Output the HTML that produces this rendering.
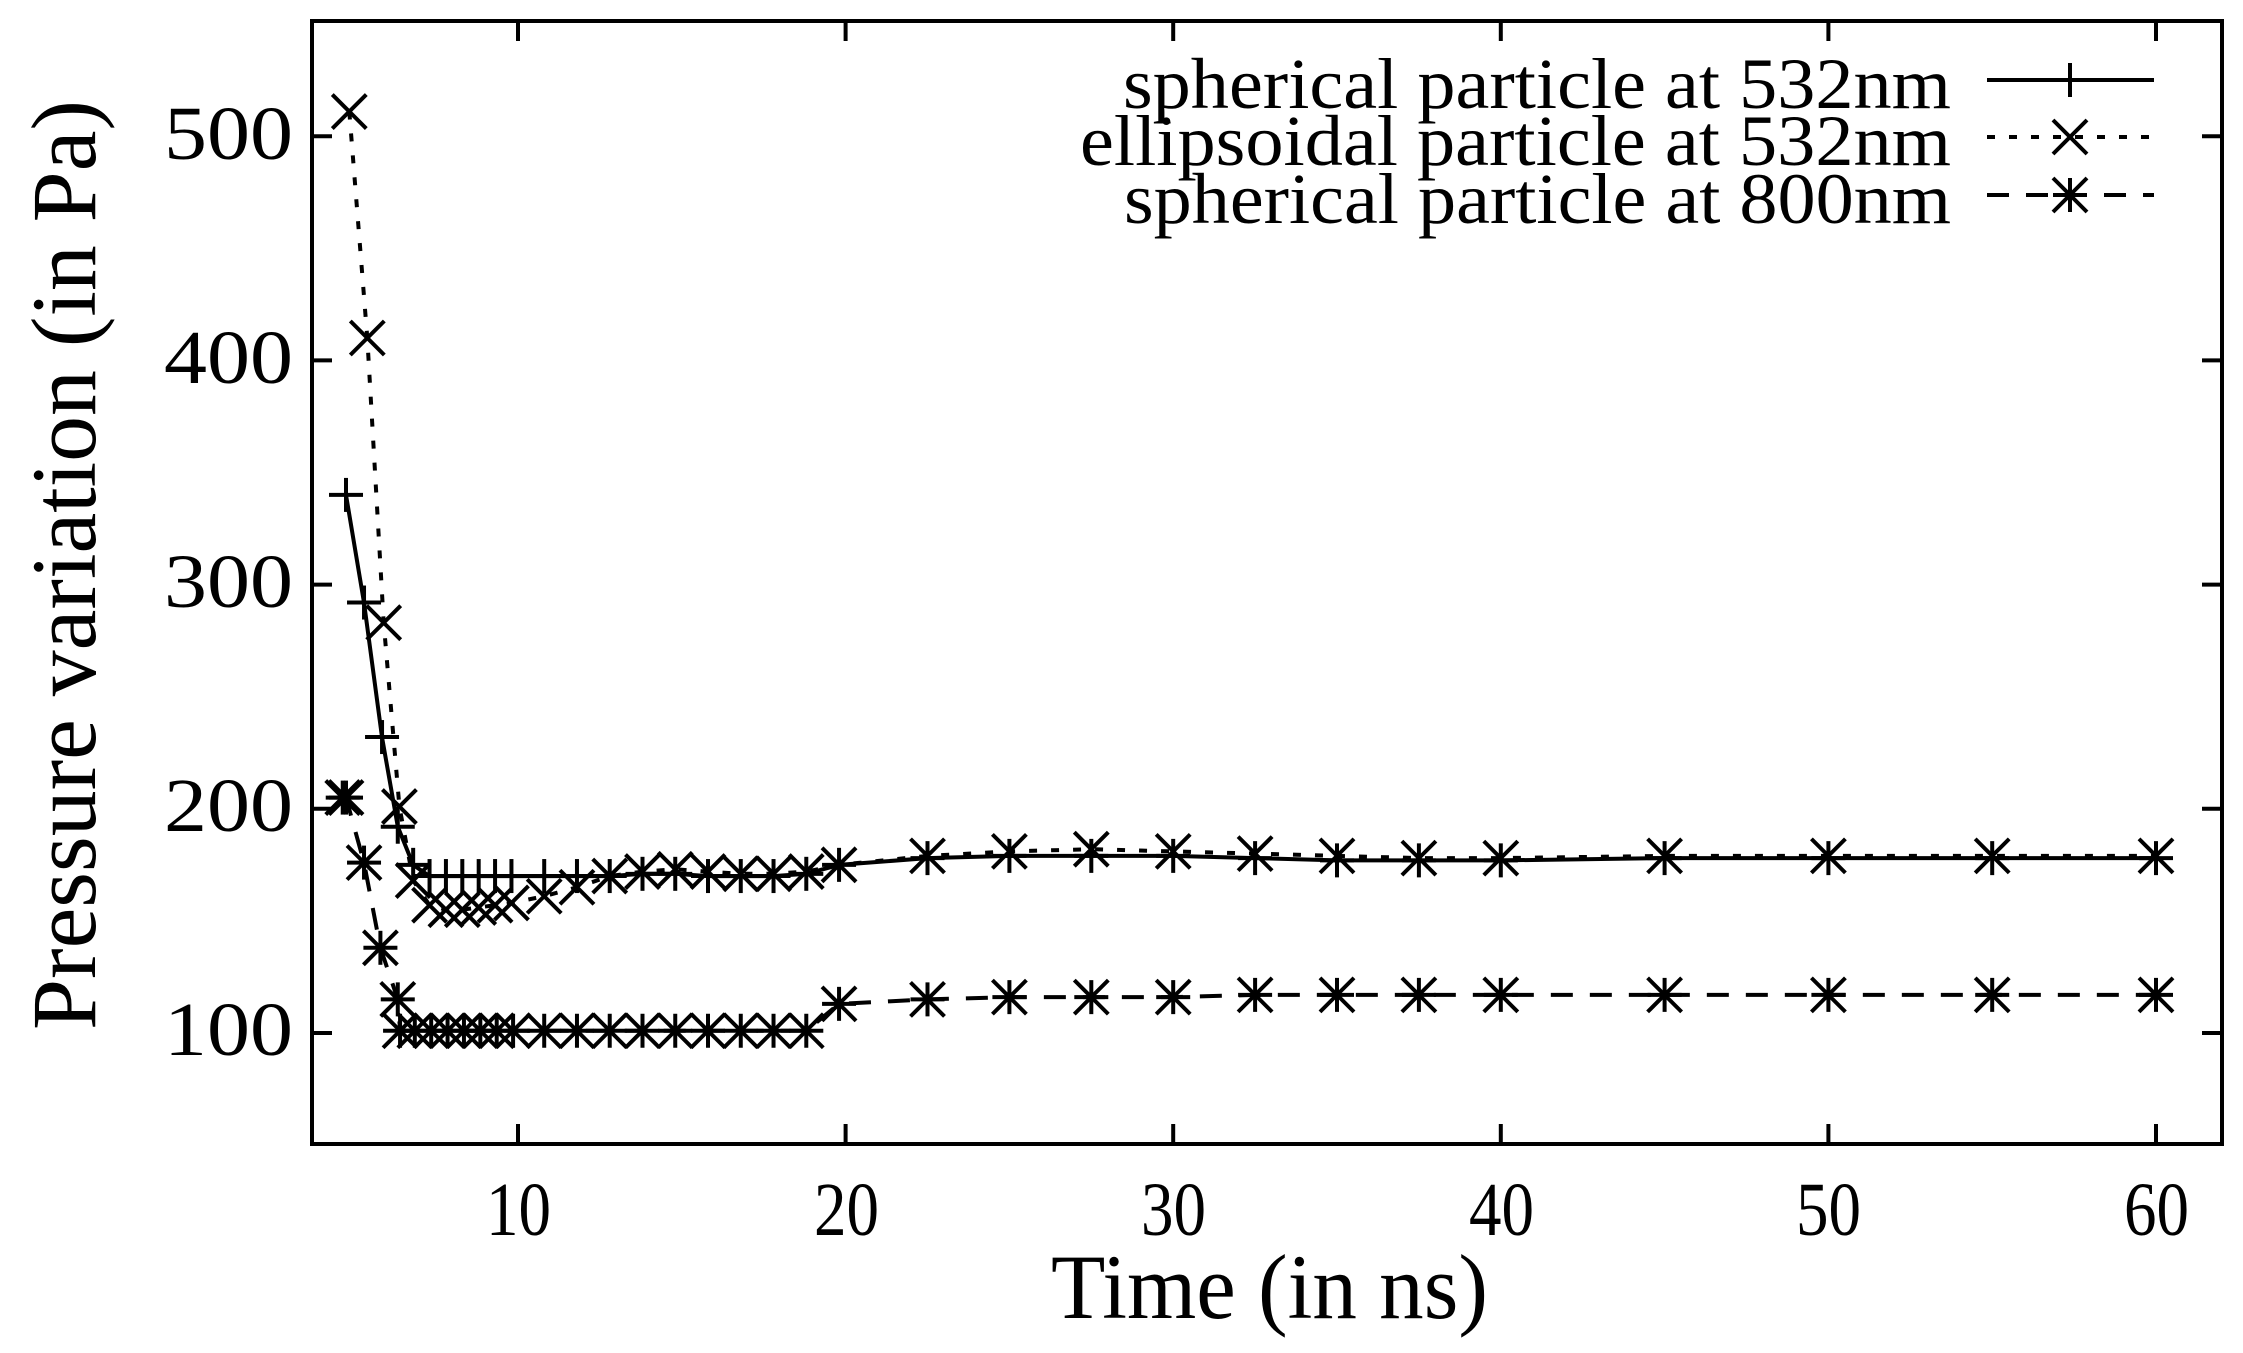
<!DOCTYPE html>
<html><head><meta charset="utf-8"><style>
html,body{margin:0;padding:0;background:#fff}
svg{display:block}
text{font-family:"Liberation Serif",serif;fill:#000}
</style></head><body>
<svg id="s" width="2243" height="1353" viewBox="0 0 2243 1353" xmlns="http://www.w3.org/2000/svg">
<rect width="2243" height="1353" fill="#fff"/>
<g id="g" stroke="#000" stroke-width="4" fill="none"></g>
<g font-size="76">
<text x="164" y="159" textLength="129" lengthAdjust="spacingAndGlyphs">500</text>
<text x="164" y="383" textLength="129" lengthAdjust="spacingAndGlyphs">400</text>
<text x="164" y="607" textLength="129" lengthAdjust="spacingAndGlyphs">300</text>
<text x="164" y="831" textLength="129" lengthAdjust="spacingAndGlyphs">200</text>
<text x="164" y="1055" textLength="129" lengthAdjust="spacingAndGlyphs">100</text>
<text x="486" y="1235" textLength="65" lengthAdjust="spacingAndGlyphs">10</text>
<text x="814" y="1235" textLength="65" lengthAdjust="spacingAndGlyphs">20</text>
<text x="1141" y="1235" textLength="65" lengthAdjust="spacingAndGlyphs">30</text>
<text x="1469" y="1235" textLength="65" lengthAdjust="spacingAndGlyphs">40</text>
<text x="1796" y="1235" textLength="65" lengthAdjust="spacingAndGlyphs">50</text>
<text x="2124" y="1235" textLength="65" lengthAdjust="spacingAndGlyphs">60</text>
</g>
<g font-size="72">
<text x="1123" y="108" textLength="828" lengthAdjust="spacingAndGlyphs">spherical particle at 532nm</text>
<text x="1080" y="165" textLength="871" lengthAdjust="spacingAndGlyphs">ellipsoidal particle at 532nm</text>
<text x="1124" y="223" textLength="827" lengthAdjust="spacingAndGlyphs">spherical particle at 800nm</text>
</g>
<text x="1051" y="1318" font-size="92" textLength="437" lengthAdjust="spacingAndGlyphs">Time (in ns)</text>
<text transform="translate(95,1030) rotate(-90)" font-size="92" textLength="930" lengthAdjust="spacingAndGlyphs">Pressure variation (in Pa)</text>
</svg>
<script>
var g=document.getElementById('g'),NS='http://www.w3.org/2000/svg';
function el(t,a){var e=document.createElementNS(NS,t);for(var k in a)e.setAttribute(k,a[k]);g.appendChild(e);return e;}
function X(v){return 518+(v-10)*32.76}
function Y(v){return 1033-(v-100)*2.242}
el('rect',{x:312,y:21,width:1910,height:1123});
for(var v=100;v<=500;v+=100){el('line',{x1:312,y1:Y(v),x2:332,y2:Y(v)});el('line',{x1:2222,y1:Y(v),x2:2202,y2:Y(v)});}
for(var v=10;v<=60;v+=10){el('line',{x1:X(v),y1:1144,x2:X(v),y2:1124});el('line',{x1:X(v),y1:21,x2:X(v),y2:41});}
var r=17;
function mk(t,x,y){
 if(t==0||t==2){el('line',{x1:x-r,y1:y,x2:x+r,y2:y});el('line',{x1:x,y1:y-r,x2:x,y2:y+r});}
 if(t==1||t==2){el('line',{x1:x-r,y1:y-r,x2:x+r,y2:y+r});el('line',{x1:x-r,y1:y+r,x2:x+r,y2:y-r});}
}
var s1=[[4.75,340],[5.3,292],[5.85,232],[6.33,192],[6.8,175],[7.3,170],[7.8,170],[8.3,170],[8.8,170],[9.3,170],[9.8,170],[10.8,170],[11.8,170],[12.8,170],[13.8,171],[14.8,171],[15.8,170],[16.8,170],[17.8,170],[18.8,171],[19.8,175],[22.5,178],[25,179],[27.5,179],[30,179],[32.5,178],[35,177],[37.5,177],[40,177],[45,178],[50,178],[55,178],[60,178]];
var s2=[[4.85,511],[5.4,410],[5.9,283],[6.38,201],[6.8,168],[7.3,157],[7.8,155],[8.3,155],[8.8,156],[9.3,157],[9.8,158],[10.8,161],[11.8,165],[12.8,170],[13.8,172],[14.8,173],[15.8,172],[16.8,171],[17.8,171],[18.8,172],[19.8,175],[22.5,179],[25,181],[27.5,182],[30,181],[32.5,180],[35,179],[37.5,178],[40,178],[45,179],[50,179],[55,179],[60,179]];
var s3=[[4.65,205],[4.75,205],[5.3,176],[5.8,138],[6.33,115],[6.4,101],[6.85,101],[7.35,101],[7.85,101],[8.35,101],[8.85,101],[9.35,101],[9.85,101],[10.8,101],[11.8,101],[12.8,101],[13.8,101],[14.8,101],[15.8,101],[16.8,101],[17.8,101],[18.8,101],[19.8,113],[22.5,115],[25,116],[27.5,116],[30,116],[32.5,117],[35,117],[37.5,117],[40,117],[45,117],[50,117],[55,117],[60,117]];
function series(d,t,dash){
 var p=d.map(function(q){return X(q[0]).toFixed(1)+','+Y(q[1]).toFixed(1)}).join(' ');
 var a={points:p};if(dash)a['stroke-dasharray']=dash;el('polyline',a);
 d.forEach(function(q){mk(t,X(q[0]),Y(q[1]))});
}
series(s1,0,null);series(s2,1,'8,14');series(s3,2,'22,17');
el('line',{x1:1987,y1:80,x2:2154,y2:80});mk(0,2070,80);
el('line',{x1:1987,y1:137,x2:2154,y2:137,'stroke-dasharray':'8,14'});mk(1,2070,137);
el('line',{x1:1987,y1:195,x2:2154,y2:195,'stroke-dasharray':'22,17'});mk(2,2070,195);
</script>
</body></html>
